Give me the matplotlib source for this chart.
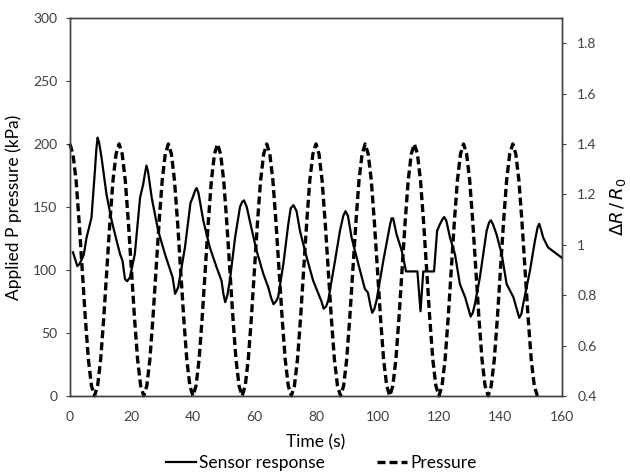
import numpy as np
import matplotlib
matplotlib.use('Agg')
import matplotlib.pyplot as plt
from matplotlib.lines import Line2D

plt.rcParams['font.family'] = ['Lato', 'DejaVu Sans']
plt.rcParams['mathtext.fontset'] = 'dejavusans'

# pressure read every second, kPa
pressure_time = np.arange(0, 153, 1)
pressure_kpa = [
    200, 192, 171, 138, 100, 62, 29, 8, 0, 8, 29, 62, 100, 138, 171, 192,
    200, 192, 171, 138, 100, 62, 29, 8, 0, 8, 29, 62, 100, 138, 171, 192,
    200, 192, 171, 138, 100, 62, 29, 8, 0, 8, 29, 62, 100, 138, 171, 192,
    200, 192, 171, 138, 100, 62, 29, 8, 0, 8, 29, 62, 100, 138, 171, 192,
    200, 192, 171, 138, 100, 62, 29, 8, 0, 8, 29, 62, 100, 138, 171, 192,
    200, 192, 171, 138, 100, 62, 29, 8, 0, 8, 29, 62, 100, 138, 171, 192,
    200, 192, 171, 138, 100, 62, 29, 8, 0, 8, 29, 62, 100, 138, 171, 192,
    200, 192, 171, 138, 100, 62, 29, 8, 0, 8, 29, 62, 100, 138, 171, 192,
    200, 192, 171, 138, 100, 62, 29, 8, 0, 8, 29, 62, 100, 138, 171, 192,
    200, 192, 171, 138, 100, 62, 29, 8, 0,
]

# sensor response dR/R0
sensor_time = [
    1.0, 2.4, 3.2, 4.5, 5.4, 7.0, 8.1, 8.6, 9.0, 9.5, 10.3, 11.9, 13.6, 15.2, 16.3, 17.1,
    17.9, 18.6, 19.5, 21.1, 22.8, 23.8, 24.5, 24.9, 25.4, 26.6, 28.7, 30.9, 32.5, 33.4,
    34.2, 35.2, 37.4, 39.2, 40.0, 40.7, 41.2, 41.8, 43.4, 45.5, 47.7, 49.3, 49.9, 50.5, 51.2, 52.0,
    53.7, 55.3, 56.0, 56.6, 57.5, 58.5, 60.7, 62.9, 64.5, 65.4, 66.2, 67.0, 67.7, 69.4, 71.0,
    71.8, 72.7, 73.7, 74.8, 77.0, 79.1, 80.8, 81.8, 82.5, 83.3, 84.0, 86.2, 87.8, 88.9, 89.6,
    90.4, 91.6, 93.8, 95.9, 96.9, 97.7, 98.3, 99.0, 99.7, 101.9, 104.1, 104.6, 105.1, 106.2,
    107.9, 109.3, 113.0, 114.0, 114.9, 118.4, 119.4, 120.3, 121.1, 121.7, 122.4, 123.6,
    125.2, 126.8, 128.5, 129.6, 130.3, 131.0, 131.7, 133.3, 135.5, 136.3, 136.9, 137.6,
    138.7, 140.4, 142.0, 144.2, 145.4, 146.1, 146.8, 147.4, 149.6, 151.2, 152.1, 152.6,
    153.2, 153.9, 155.5, 157.7, 159.9,
]
sensor_dr = [
    0.970, 0.915, 0.925, 0.960, 1.028, 1.107, 1.290, 1.380, 1.425, 1.405, 1.344, 1.199, 1.094, 1.015, 0.963, 0.936,
    0.864, 0.855, 0.870, 0.963, 1.186, 1.239, 1.290, 1.314, 1.290, 1.186, 1.055, 0.963, 0.904, 0.870,
    0.805, 0.831, 0.989, 1.166, 1.190, 1.215, 1.225, 1.205, 1.094, 0.989, 0.910, 0.857, 0.805, 0.772, 0.800, 0.857,
    1.028, 1.150, 1.170, 1.176, 1.150, 1.094, 0.976, 0.884, 0.831, 0.790, 0.764, 0.775, 0.792, 0.923, 1.081,
    1.145, 1.157, 1.133, 1.055, 0.949, 0.857, 0.805, 0.775, 0.746, 0.755, 0.779, 0.936, 1.055, 1.115, 1.133,
    1.115, 1.028, 0.923, 0.825, 0.810, 0.760, 0.730, 0.745, 0.779, 0.936, 1.080, 1.105, 1.105, 1.042,
    0.976, 0.894, 0.894, 0.736, 0.894, 0.894, 1.055, 1.081, 1.100, 1.110, 1.095, 1.028,
    0.963, 0.844, 0.792, 0.745, 0.715, 0.730, 0.765, 0.870, 1.055, 1.088, 1.097, 1.080,
    1.042, 0.963, 0.844, 0.792, 0.740, 0.710, 0.725, 0.765, 0.897, 1.015, 1.070, 1.083,
    1.060, 1.028, 0.989, 0.969, 0.949,
]

left_ticks = [0, 50, 100, 150, 200, 250, 300]
right_ticks = [0.4, 0.6, 0.8, 1.0, 1.2, 1.4, 1.6, 1.8]
right_labels = ['0.4', '0.6', '0.8', '1', '1.2', '1.4', '1.6', '1.8']
x_ticks = [0, 20, 40, 60, 80, 100, 120, 140, 160]

tick_col = '#404040'
dash = (0, (2.4, 1.2))

fig = plt.figure(figsize=(6.3, 4.73), dpi=100)
ax = fig.add_axes([0.111, 0.163, 0.781, 0.799])
ax2 = ax.twinx()

ax.plot(pressure_time, pressure_kpa, color='black', lw=2.4, linestyle=dash,
        dash_capstyle='butt', clip_on=False)
ax2.plot(sensor_time, sensor_dr, color='black', lw=1.6)

ax.set_xlim(0, 160)
ax.set_ylim(0, 300)
ax2.set_ylim(0.4, 1.9)
ax.set_xticks(x_ticks)
ax.set_yticks(left_ticks)
ax2.set_yticks(right_ticks)
ax2.set_yticklabels(right_labels)

for a in (ax, ax2):
    for s in a.spines.values():
        s.set_color('#404040')
        s.set_linewidth(1.0)
ax.tick_params(axis='both', labelsize=10, colors=tick_col, length=3, width=0.8, pad=6)
ax.tick_params(axis='x', length=0, pad=11)
ax2.tick_params(axis='y', labelsize=10, colors=tick_col, length=3, width=0.8, pad=8)

ax.set_ylabel('Applied P pressure (kPa)', fontsize=12.5, color='black', labelpad=8)
ax.set_xlabel('Time (s)', fontsize=12.5, color='black', labelpad=8)
ax2.set_ylabel(r'$\Delta R\,/\,R_0$', fontsize=13, color='black', labelpad=8)

handles = [Line2D([], [], color='black', lw=1.6),
           Line2D([], [], color='black', lw=2.4, linestyle=dash)]
fig.legend(handles, ['Sensor response', 'Pressure'], loc='center',
           bbox_to_anchor=(0.51, 0.021), ncol=2, frameon=False, fontsize=12.5,
           handlelength=1.7, handletextpad=0.2, columnspacing=3.0,
           borderpad=0, borderaxespad=0)

fig.savefig('out.png', dpi=100)
